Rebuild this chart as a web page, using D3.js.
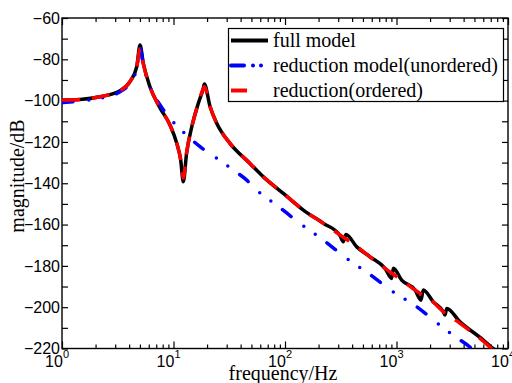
<!DOCTYPE html>
<html>
<head>
<meta charset="utf-8">
<script src="https://cdn.jsdelivr.net/npm/d3@7"></script>
<style>
  html, body { margin: 0; padding: 0; background: #fff; }
  svg { display: block; }
</style>
</head>
<body>
<svg id="chart" width="512" height="383"></svg>
<script>
// values (frequency in Hz, magnitude in dB)
const freqFull = [1, 1.45, 2.19, 3.31, 4.07, 4.68, 5.01, 5.36, 6.15, 7.57, 9.3, 10.7, 11.6, 12.24, 13.1, 14.6, 16.7, 18.5, 18.9, 21.3, 24.4, 32.1, 48.5, 63.9, 96.6, 146, 221, 311, 333, 352, 440, 578, 789, 906, 936, 1113, 1466, 1659, 1738, 2137, 2629, 2723, 2820, 3712, 6005, 7337, 8000];
const magFull = [-99.7, -99.4, -98.1, -95.2, -90.8, -83.6, -73.1, -81.9, -93.3, -103.5, -111.8, -120.7, -128.8, -139.3, -125.5, -112.6, -101.3, -94.0, -92.0, -103.0, -111.0, -120.7, -130.4, -136.9, -144.9, -153.0, -159.4, -165.3, -168.3, -164.8, -170.8, -175.6, -181.2, -186.1, -181.2, -186.9, -191.7, -196.6, -191.7, -197.4, -202.2, -203.8, -200.6, -207.1, -215.9, -220, -221.5];

const freqUnordered = [1, 1.45, 2.19, 3.31, 4.07, 4.68, 5.01, 5.36, 6.15, 7.57, 9.3, 13.1, 17.3, 24.4, 34.4, 45.4, 55.7, 84.3, 136, 221, 357, 559, 874, 1518, 2455, 3020, 4563, 5000];
const magUnordered = [-101.0, -100.2, -98.9, -95.7, -91.5, -84.5, -74.5, -82.5, -93.5, -102.1, -108.6, -116.7, -122.3, -127.9, -133.6, -138.5, -143.3, -150.6, -159.4, -167.5, -176.4, -183.6, -191.5, -199.8, -208.8, -212.5, -219.3, -221];

const freqOrdered = [1, 1.45, 2.19, 3.31, 4.07, 4.68, 5.01, 5.36, 6.15, 7.57, 9.3, 10.7, 11.6, 12.24, 13.1, 14.6, 16.7, 18.5, 18.9, 21.3, 24.4, 32.1, 48.5, 63.9, 96.6, 146, 221, 311, 440, 578, 789, 1113, 1466, 2137, 2629, 3712, 6005, 7100, 8000];
const magOrdered = [-99.7, -99.4, -98.1, -95.2, -90.8, -83.8, -74.7, -82.2, -93.3, -103.5, -111.8, -120.7, -128.5, -137.5, -125.3, -112.6, -101.3, -94.3, -93.3, -103.0, -111.0, -120.7, -130.4, -136.9, -144.9, -153.0, -159.4, -165.0, -170.6, -175.6, -181.2, -186.9, -191.7, -197.6, -202.2, -207.8, -216.5, -220, -223];

const legendLabels = ["full model", "reduction model(unordered)", "reduction(ordered)"];
const xDecades = [0, 1, 2, 3, 4];
const yMajorTicks = [-60, -80, -100, -120, -140, -160, -180, -200, -220];
const yMinorTicks = [-70, -90, -110, -130, -150, -170, -190, -210];

const margin = { left: 62, right: 4, top: 18, bottom: 34.5 };
const width = 512, height = 383;
const innerW = width - margin.left - margin.right;
const innerH = height - margin.top - margin.bottom;

const svg = d3.select("#chart");
const g = svg.append("g").attr("transform", `translate(${margin.left},${margin.top})`);

const x = d3.scaleLog().domain([1, 1e4]).range([0, innerW]);
const y = d3.scaleLinear().domain([-220, -60]).range([innerH, 0]);

// minor log ticks 2..9 per decade
const xMinor = [];
xDecades.slice(0, -1).forEach(k => {
  for (let m = 2; m <= 9; m++) xMinor.push(m * Math.pow(10, k));
});
const xMajor = xDecades.map(k => Math.pow(10, k));

function tickLines(axisFn, scale, vals, size, transform) {
  const a = g.append("g")
    .attr("transform", transform)
    .call(axisFn(scale).tickValues(vals).tickSizeInner(-size).tickSizeOuter(0).tickFormat(""));
  a.select(".domain").remove();
  a.selectAll("line").attr("stroke", "#000").attr("stroke-width", 1.2);
  return a;
}

tickLines(d3.axisBottom, x, xMajor, 7, `translate(0,${innerH})`);
tickLines(d3.axisBottom, x, xMinor, 4, `translate(0,${innerH})`);
tickLines(d3.axisTop, x, xMajor, 7, "translate(0,0)");
tickLines(d3.axisTop, x, xMinor, 4, "translate(0,0)");
tickLines(d3.axisLeft, y, yMajorTicks.concat(yMinorTicks), 6, "translate(0,0)");
tickLines(d3.axisRight, y, yMajorTicks.concat(yMinorTicks), 6, `translate(${innerW},0)`);

// y tick labels
const yAxis = g.append("g")
  .call(d3.axisLeft(y).tickValues(yMajorTicks).tickSize(0).tickPadding(2).tickFormat(d3.format("d")));
yAxis.select(".domain").remove();
yAxis.selectAll("text")
  .attr("font-family", "Liberation Sans, Arial, sans-serif")
  .attr("font-size", 16)
  .attr("fill", "#000");

// x tick labels 10^k
const xl = g.append("g").selectAll("text").data(xDecades).enter().append("text")
  .attr("x", d => x(Math.pow(10, d)) + 7)
  .attr("y", innerH + 18)
  .attr("text-anchor", "end")
  .attr("font-family", "Liberation Sans, Arial, sans-serif")
  .attr("font-size", 16)
  .attr("fill", "#000");
xl.append("tspan").text("10");
xl.append("tspan").attr("dy", -9).attr("font-size", 11).text(d => d);

// frame
g.append("rect")
  .attr("width", innerW).attr("height", innerH)
  .attr("fill", "none").attr("stroke", "#000").attr("stroke-width", 1.4);

// curves
g.append("clipPath").attr("id", "clip")
  .append("rect").attr("width", innerW).attr("height", innerH);

const line = d3.line()
  .x(d => x(d[0]))
  .y(d => y(d[1]))
  .curve(d3.curveMonotoneX);

const series = [
  { f: freqFull, m: magFull, color: "#000", dash: null, cap: "butt" },
  { f: freqUnordered, m: magUnordered, color: "#0000ff", dash: "11,16,0,14,0,14.5", cap: "round" },
  { f: freqOrdered, m: magOrdered, color: "#ff0000", dash: "18,12", cap: "butt" }
];

const plot = g.append("g").attr("clip-path", "url(#clip)");
series.forEach(s => {
  plot.append("path")
    .datum(d3.zip(s.f, s.m))
    .attr("d", line)
    .attr("fill", "none")
    .attr("stroke", s.color)
    .attr("stroke-width", 3.5)
    .attr("stroke-linecap", s.cap)
    .attr("stroke-linejoin", "round")
    .attr("stroke-dasharray", s.dash);
});

// legend
const lg = svg.append("g");
lg.append("rect")
  .attr("x", 228.5).attr("y", 28.5).attr("width", 275).attr("height", 73)
  .attr("fill", "#fff").attr("stroke", "#000").attr("stroke-width", 1.2);

const rowBase = [47, 72, 97];
legendLabels.forEach((lab, i) => {
  const s = series[i];
  lg.append("line")
    .attr("x1", 231).attr("x2", 268)
    .attr("y1", rowBase[i] - 6.5).attr("y2", rowBase[i] - 6.5)
    .attr("stroke", s.color).attr("stroke-width", 4)
    .attr("stroke-linecap", s.cap)
    .attr("stroke-dasharray", i === 1 ? "13,9,0,8,0,8" : (i === 2 ? "16,40" : null));
  lg.append("text")
    .attr("x", 273).attr("y", rowBase[i])
    .attr("font-family", "Liberation Serif, Times New Roman, serif")
    .attr("font-size", 20)
    .attr("fill", "#000")
    .text(lab);
});

// axis titles
svg.append("text")
  .attr("x", 283).attr("y", 380)
  .attr("text-anchor", "middle")
  .attr("font-family", "Liberation Serif, Times New Roman, serif")
  .attr("font-size", 20)
  .text("frequency/Hz");

svg.append("text")
  .attr("transform", "translate(24,176) rotate(-90)")
  .attr("text-anchor", "middle")
  .attr("font-family", "Liberation Serif, Times New Roman, serif")
  .attr("font-size", 20)
  .text("magnitude/dB");
</script>
</body>
</html>
